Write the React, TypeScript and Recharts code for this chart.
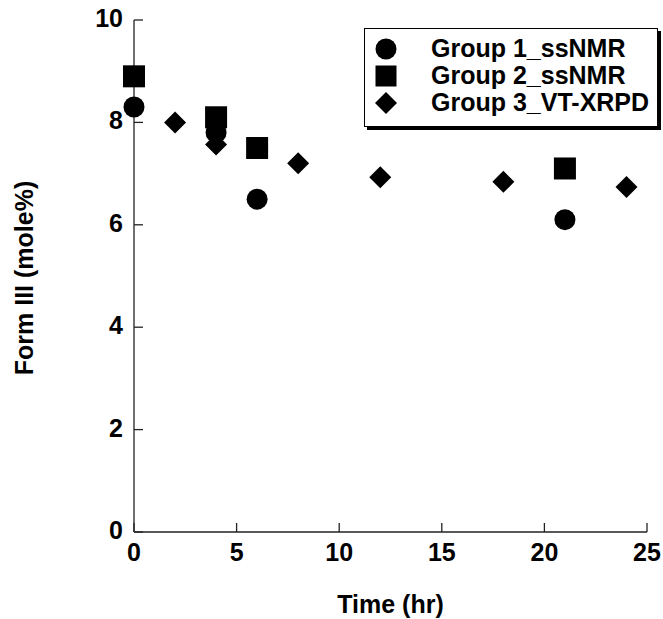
import { ScatterChart, Scatter, XAxis, YAxis } from 'recharts';

const group1Time = [0, 4, 6, 21];
const group1Form = [8.3, 7.8, 6.5, 6.1];
const group2Time = [0, 4, 6, 21];
const group2Form = [8.9, 8.1, 7.5, 7.1];
const group3Time = [2, 4, 8, 12, 18, 24];
const group3Form = [8.0, 7.57, 7.2, 6.93, 6.84, 6.74];

const xTicks = [0, 5, 10, 15, 20, 25];
const yTicks = [0, 2, 4, 6, 8, 10];

const seriesNames = ['Group 1_ssNMR', 'Group 2_ssNMR', 'Group 3_VT-XRPD'];

const toRows = (xs: number[], ys: number[]) => xs.map((t, i) => ({ t, v: ys[i] }));

const FONT = '"Liberation Sans", Arial, sans-serif';
const INK = '#000';
const AXIS = '#222';
const FS = 25;

type ShapeProps = { cx?: number; cy?: number };

const Circle = ({ cx = 0, cy = 0 }: ShapeProps) => <circle cx={cx} cy={cy} r={10.5} fill={INK} />;
const Square = ({ cx = 0, cy = 0 }: ShapeProps) => (
  <rect x={cx - 11} y={cy - 11} width={22} height={22} fill={INK} />
);
const Diamond = ({ cx = 0, cy = 0 }: ShapeProps) => (
  <polygon points={`${cx},${cy - 11} ${cx + 11},${cy} ${cx},${cy + 11} ${cx - 11},${cy}`} fill={INK} />
);

function YTick({ x, y, payload }: any) {
  return (
    <g>
      <line x1={x} x2={x + 9} y1={y} y2={y} stroke={AXIS} strokeWidth={1.3} />
      <text x={x - 11} y={y} dy={7} textAnchor="end" fontFamily={FONT} fontWeight="bold" fontSize={FS} fill={INK}>
        {payload.value}
      </text>
    </g>
  );
}

function XTick({ x, y, payload }: any) {
  return (
    <g>
      <line x1={x} x2={x} y1={y} y2={y - 9} stroke={AXIS} strokeWidth={1.3} />
      <text x={x} y={y} dy={29} textAnchor="middle" fontFamily={FONT} fontWeight="bold" fontSize={FS} fill={INK}>
        {payload.value}
      </text>
    </g>
  );
}

function XTitle({ viewBox }: any) {
  const cx = viewBox.x + viewBox.width / 2;
  return (
    <text x={cx} y={viewBox.y + 81} textAnchor="middle" fontFamily={FONT} fontWeight="bold" fontSize={FS} fill={INK}>
      Time (hr)
    </text>
  );
}

function YTitle({ viewBox }: any) {
  const cy = viewBox.y + viewBox.height / 2 + 2;
  const x = 33;
  return (
    <text
      x={x}
      y={cy}
      transform={`rotate(-90, ${x}, ${cy})`}
      textAnchor="middle"
      fontFamily={FONT}
      fontWeight="bold"
      fontSize={FS}
      fill={INK}
    >
      Form III (mole%)
    </text>
  );
}

const legendIcons = [
  <svg width={22} height={22} key="c"><circle cx={11} cy={11} r={10.5} fill={INK} /></svg>,
  <svg width={22} height={22} key="s"><rect x={0.5} y={0.5} width={21} height={21} fill={INK} /></svg>,
  <svg width={22} height={22} key="d"><polygon points="11,0 22,11 11,22 0,11" fill={INK} /></svg>,
];

export default function App() {
  return (
    <div style={{ position: 'relative', width: 663, height: 619, background: '#fff' }}>
      <style>{`body{margin:0}`}</style>
      <ScatterChart width={663} height={619} margin={{ top: 20, right: 16, bottom: 37, left: 74 }}>
        <XAxis
          type="number"
          dataKey="t"
          domain={[0, 25]}
          ticks={xTicks}
          height={50}
          tickSize={0}
          tickMargin={0}
          tick={<XTick />}
          axisLine={{ stroke: AXIS, strokeWidth: 1.3 }}
          label={<XTitle />}
        />
        <YAxis
          type="number"
          dataKey="v"
          domain={[0, 10]}
          ticks={yTicks}
          width={60}
          tickSize={0}
          tickMargin={0}
          tick={<YTick />}
          axisLine={{ stroke: AXIS, strokeWidth: 1.3 }}
          label={<YTitle />}
        />
        <Scatter name={seriesNames[2]} data={toRows(group3Time, group3Form)} shape={<Diamond />} isAnimationActive={false} />
        <Scatter name={seriesNames[0]} data={toRows(group1Time, group1Form)} shape={<Circle />} isAnimationActive={false} />
        <Scatter name={seriesNames[1]} data={toRows(group2Time, group2Form)} shape={<Square />} isAnimationActive={false} />
      </ScatterChart>
      <div
        style={{
          position: 'absolute',
          left: 364,
          top: 28,
          width: 294,
          height: 99,
          border: '1px solid #000',
          boxShadow: '3px 3px 0 #000',
          background: '#fff',
          boxSizing: 'border-box',
          padding: '6px 0 0 10px',
          fontFamily: FONT,
          fontWeight: 'bold',
          fontSize: FS,
          lineHeight: '27px',
        }}
      >
        {seriesNames.map((n, i) => (
          <div key={n} style={{ display: 'flex', alignItems: 'center', height: 27 }}>
            <span style={{ width: 56, display: 'flex' }}>{legendIcons[i]}</span>
            <span>{n}</span>
          </div>
        ))}
      </div>
    </div>
  );
}
